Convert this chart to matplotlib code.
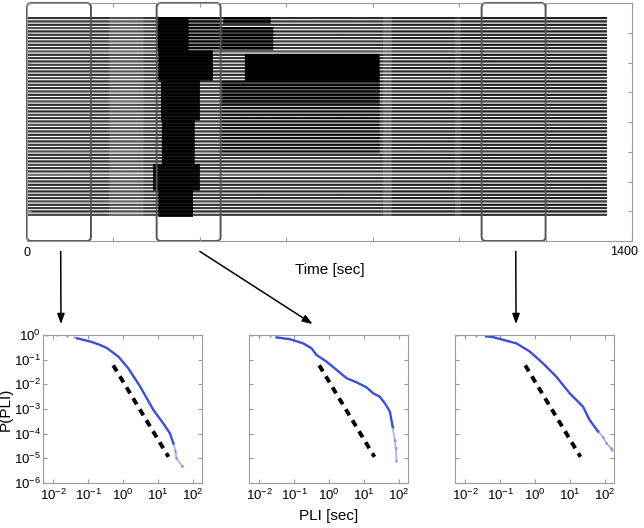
import numpy as np
import matplotlib.pyplot as plt
from matplotlib.patches import FancyBboxPatch

plt.rcParams['font.family'] = ['Liberation Sans', 'DejaVu Sans']
plt.rcParams['axes.unicode_minus'] = False

# ---------------- raster data (top panel) ----------------
n_rows = 60
# background density of spikes for all rows, by time segment [sec]
seg_t0 = [0, 190, 270, 300, 450, 825, 845, 990, 1004]
seg_t1 = [190, 270, 300, 450, 825, 845, 990, 1004, 1342]
seg_level = [0.8, 0.68, 0.78, 0.8, 0.82, 0.7, 0.85, 0.75, 0.87]

# relative density of each channel
row_gain = [1.0, 0.95, 1.0, 0.85, 1.0, 0.95, 1.0, 0.9, 1.0, 0.95,
            0.8, 1.0, 0.95, 1.0, 0.9, 1.0, 0.95, 1.0, 0.85, 1.0,
            0.95, 1.0, 0.9, 1.0, 0.95, 0.85, 1.0, 0.95, 1.0, 0.9,
            1.0, 0.95, 0.85, 1.0, 0.95, 1.0, 0.9, 1.0, 0.95, 1.0,
            0.85, 1.0, 0.95, 1.0, 0.9, 1.0, 0.95, 0.7, 1.0, 0.95,
            1.0, 0.9, 1.0, 0.95, 1.0, 0.85, 1.0, 0.95, 1.0, 0.9]

# bursting patches: channels [r0, r1), time [t0, t1)
patch_r0 = [0, 0, 10, 19, 31, 44, 51, 0, 3, 11, 19, 26]
patch_r1 = [10, 10, 19, 31, 44, 52, 60, 2, 10, 19, 26, 41]
patch_t0 = [303, 375, 305, 310, 312, 292, 305, 455, 447, 505, 450, 450]
patch_t1 = [375, 450, 430, 400, 388, 400, 385, 565, 570, 817, 817, 817]
patch_band = [1.0, 0.95, 1.0, 1.0, 1.0, 1.0, 1.0, 1.0, 1.0, 1.0, 0.97, 0.92]
patch_gap = [0.95, 0.35, 0.95, 0.9, 0.9, 0.9, 0.9, 0.7, 0.6, 1.0, 0.55, 0.15]

box_start = [0, 300, 1052]
box_width = 148

# ---------------- PLI distributions (bottom panels) ----------------
# log10 values
head_x = [[-2.2, -1.9, -1.6, -1.4], [-2.2, -2.0, -1.7, -1.5], [-2.24, -2.0, -1.7, -1.4]]
head_y = [[0.0, -0.01, -0.03, -0.08], [0.0, -0.01, -0.05, -0.1], [0.0, -0.01, -0.03, -0.05]]
main_x = [[-1.32, -0.9, -0.66, -0.46, -0.13, 0.15, 0.49, 0.87, 1.15, 1.34, 1.44],
          [-1.5, -1.12, -0.74, -0.5, -0.36, -0.07, 0.22, 0.5, 0.79, 1.07, 1.26, 1.45, 1.6, 1.74, 1.82],
          [-1.4, -1.19, -0.53, -0.15, 0.23, 0.61, 0.99, 1.37, 1.56, 1.8]]
main_y = [[-0.13, -0.28, -0.4, -0.53, -0.88, -1.35, -2.09, -3.04, -3.58, -3.98, -4.39],
          [-0.1, -0.17, -0.34, -0.54, -0.81, -1.08, -1.42, -1.75, -1.92, -2.12, -2.36, -2.5, -2.77, -3.1, -3.71],
          [-0.05, -0.09, -0.34, -0.67, -1.15, -1.69, -2.36, -2.9, -3.44, -3.91]]
tail_x = [[1.44, 1.5, 1.53, 1.7], [1.82, 1.88, 1.91, 1.93], [1.8, 1.95, 2.04, 2.18, 2.2]]
tail_y = [[-4.39, -4.7, -5.0, -5.33], [-3.71, -4.25, -4.59, -5.1], [-3.91, -4.15, -4.39, -4.59, -4.65]]

# reference power law (dashed)
fit_x = [-0.28, 1.3]
fit_y = [-1.23, -4.94]

blue = '#3a4fd6'
frame = '#9a9a9a'

fig = plt.figure(figsize=(6.44, 5.28), dpi=100)
W, H = 644, 528

# ---------------- top raster ----------------
ax = fig.add_axes([27 / W, 1 - 241 / H, 605 / W, 238 / H])
dt = 2
img = np.zeros((n_rows * 3, 1400 // dt))
for t0, t1, lev in zip(seg_t0, seg_t1, seg_level):
    for r in range(n_rows):
        img[3 * r:3 * r + 2, t0 // dt:t1 // dt] = min(1.0, lev * row_gain[r])
for r0, r1, t0, t1, b, g in zip(patch_r0, patch_r1, patch_t0, patch_t1, patch_band, patch_gap):
    for r in range(r0, r1):
        img[3 * r:3 * r + 2, t0 // dt:t1 // dt] = b
        img[3 * r + 2, t0 // dt:t1 // dt] = g
ax.imshow(img, cmap='gray_r', vmin=0, vmax=1, aspect='auto',
          extent=(0, 1400, 72, 5), interpolation='antialiased')
ax.set_xlim(0, 1400)
ax.set_ylim(80, 0)
ax.set_xticks(range(0, 1401, 200))
ax.set_xticklabels(['0', '', '', '', '', '', '', ''], fontsize=9)
ax.annotate('1400', xy=(1400, 0), xycoords=('data', 'axes fraction'),
            xytext=(-6, -3.5), textcoords='offset points',
            ha='center', va='top', fontsize=9)
ax.set_yticks(range(10, 71, 10))
ax.set_yticklabels([])
ax.tick_params(direction='in', length=3, top=True, right=True, color=frame, pad=4)
for s in ax.spines.values():
    s.set_color(frame)
    s.set_linewidth(0.8)
ax.set_xlabel('Time [sec]', fontsize=11, labelpad=3)

for x0 in box_start:
    ax.add_patch(FancyBboxPatch((x0, 0), box_width, 80,
                                boxstyle='round,pad=0,rounding_size=10',
                                mutation_aspect=0.145, fill=False,
                                edgecolor='#555555', lw=1.4, clip_on=False,
                                transform=ax.transData))

# ---------------- bottom panels ----------------
lefts = [43, 249, 455]
axes = []
for i, left in enumerate(lefts):
    a = fig.add_axes([left / W, 1 - 483 / H, 159 / W, 148 / H])
    axes.append(a)
    a.loglog(10 ** np.array(head_x[i]), 10 ** np.array(head_y[i]), 'o', ms=1.8,
             color=blue, alpha=0.5, mec='none')
    a.loglog(10 ** np.array(main_x[i]), 10 ** np.array(main_y[i]), '-', lw=1.7,
             color=blue)
    a.loglog(10 ** np.array(tail_x[i]), 10 ** np.array(tail_y[i]), '-', lw=1.4,
             color=blue, alpha=0.4)
    a.loglog(10 ** np.array(tail_x[i]), 10 ** np.array(tail_y[i]), 'o', ms=2,
             color=blue, alpha=0.4, mec='none')
    a.loglog(10 ** np.array(fit_x), 10 ** np.array(fit_y), '--', color='k',
             lw=2.8, dashes=(1.8, 1.5))
    a.set_xlim(10 ** -2.29, 10 ** 2.26)
    a.set_ylim(1e-6, 1)
    a.set_xticks([1e-2, 1e-1, 1e0, 1e1, 1e2])
    a.set_yticks([1e-6, 1e-5, 1e-4, 1e-3, 1e-2, 1e-1, 1e0])
    a.tick_params(which='both', direction='in', top=True, right=True,
                  color=frame, labelsize=9.5)
    a.tick_params(axis='y', pad=1.5)
    a.tick_params(which='major', length=3)
    a.tick_params(which='minor', length=1.5)
    if i > 0:
        a.set_yticklabels([])
    for s in a.spines.values():
        s.set_color(frame)
        s.set_linewidth(0.8)

axes[0].set_ylabel('P(PLI)', fontsize=11)
axes[0].yaxis.set_label_coords(-0.19, 0.5)
axes[1].set_xlabel('PLI [sec]', fontsize=11, labelpad=4)

# ---------------- arrows from windows to panels ----------------
arrow_from = [78, 400, 1131]
arrow_to = [0.113, 0.40, 0.384]
for t, fx, a in zip(arrow_from, arrow_to, axes):
    a.annotate('', xy=(fx, 1.074), xycoords='axes fraction',
               xytext=(t, 83.5), textcoords=ax.transData,
               arrowprops=dict(arrowstyle='-|>,head_length=0.6,head_width=0.22',
                               color='k', lw=1.1, shrinkA=0, shrinkB=0))

fig.savefig('out.png', dpi=100)
